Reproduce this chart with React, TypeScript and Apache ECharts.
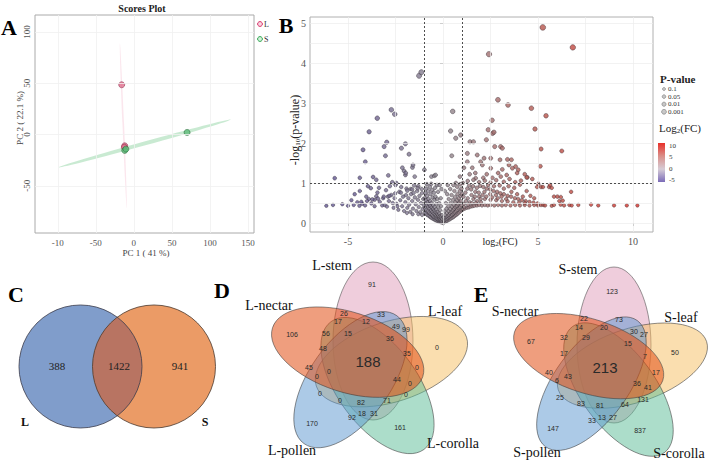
import React, { useEffect, useRef } from 'react';
import * as echarts from 'echarts';

const SERIF = '"Liberation Serif", "DejaVu Serif", serif';
const SANS = '"Liberation Sans", Arial, sans-serif';

// ---------------- Panel A : PCA scores ----------------
const pcaGroupL = [[-16, 48.5], [-12, -11], [-12.5, -12.3]];
const pcaGroupS = [[-12, -15.5], [-10.5, -14.2], [70, 2]];
const pcaEllipseL = [[-18.4, 89, -9.2, -72]];
const pcaEllipseS = [[-98.7, -32, 127.6, 14.6]];
const pcaXTicks = [-100, -50, 0, 50, 100, 150];
const pcaXTickLabels = ['-10', '-50', '0', '50', '100', '150'];
const pcaYTicks = [-50, 0, 50, 100];

// ---------------- Panel B : volcano ----------------
const volcLeftHigh = [
  [-1.26, 3.68], [-1.14, 3.77], [-2.72, 2.83], [-2.54, 2.72], [-3.46, 2.62], [-3.89, 2.28], [-2.96, 2.02],
  [-3.1, 1.91], [-1.98, 1.98], [-2.19, 1.87], [-4.21, 1.83], [-3.03, 1.68], [-1.79, 1.72], [-4.09, 1.53],
  [-2.14, 1.38], [-2.05, 1.3], [-1.61, 1.39], [-1.58, 1.45], [-2.88, 1.19], [-1.98, 1.2], [-1.96, 1.25],
  [-1.49, 1.16], [-5.7, 1.12], [-4.38, 1.13], [-3.68, 1.15], [-3.51, 1.08], [-2.67, 1.02], [-2.46, 1.0],
  [-0.98, 1.33], [-0.61, 1.16], [-0.46, 1.18], [-0.39, 1.2],
];
const volcRightHigh = [
  [5.25, 4.89], [6.83, 4.39], [2.42, 4.22], [2.89, 3.08], [3.42, 2.95], [4.65, 2.87], [0.51, 2.79],
  [2.58, 2.57], [5.42, 2.68], [4.84, 2.35], [2.38, 2.33], [2.61, 2.24], [5.16, 1.85], [6.25, 1.8],
  [3.03, 1.91], [2.28, 2.08], [5.12, 1.42], [4.44, 1.14], [4.7, 1.1], [0.4, 2.3], [0.67, 2.12],
  [0.93, 2.2], [0.46, 1.68], [2.68, 2.27], [1.42, 2.03], [1.6, 2.03], [2.72, 1.91], [3.12, 1.87],
  [1.28, 1.74], [1.8, 1.7], [2.16, 1.62], [2.51, 1.62], [3.0, 1.58], [3.39, 1.59], [3.6, 1.58],
  [1.28, 1.53], [1.98, 1.53], [2.07, 1.45], [3.47, 1.45], [3.82, 1.41], [1.1, 1.38], [1.54, 1.38],
  [2.51, 1.37], [3.12, 1.34], [3.65, 1.37], [3.96, 1.33], [0.89, 1.16], [1.72, 1.12], [2.12, 1.13],
  [2.6, 1.13], [3.04, 1.16], [4.4, 1.14], [1.3, 1.05], [1.6, 1.08], [1.9, 1.02], [2.2, 1.06],
  [2.5, 1.01], [2.8, 1.07], [3.2, 1.03], [3.5, 1.1], [3.8, 1.02], [4.1, 1.06], [4.3, 1.22],
  [3.9, 1.25], [2.9, 1.25], [1.4, 1.22], [2.3, 1.22], [1.05, 1.0], [1.7, 1.25], [3.35, 1.2],
  [5.02, 0.98], [5.63, 0.95],
];
const volcLeftLow = [
  [-6.14, 0.43], [-5.79, 0.45], [-5.3, 0.47], [-5.0, 0.43], [-4.82, 0.57], [-4.7, 0.45], [-4.51, 0.52],
  [-4.4, 0.43], [-4.25, 0.48], [-4.1, 0.44], [-3.95, 0.92], [-3.8, 0.87], [-3.77, 0.49], [-3.6, 0.42],
  [-3.37, 0.88], [-3.33, 0.53], [-3.2, 0.44], [-3.07, 0.45], [-4.38, 0.8], [-4.65, 0.72], [-4.04, 0.66],
  [-3.51, 0.67], [-2.72, 0.7], [-2.95, 0.41], [-2.85, 0.55], [-2.6, 0.38], [-2.55, 0.62], [-2.45, 0.48],
  [-2.35, 0.33], [-2.3, 0.78], [-2.25, 0.57], [-2.15, 0.42], [-2.1, 0.66], [-2.05, 0.3], [-1.98, 0.52],
  [-1.92, 0.86], [-1.88, 0.38], [-1.82, 0.62], [-1.78, 0.46], [-1.72, 0.28], [-1.68, 0.72], [-1.62, 0.55],
  [-1.58, 0.36], [-1.52, 0.94], [-1.48, 0.64], [-1.44, 0.47], [-1.4, 0.3], [-1.36, 0.8], [-1.32, 0.58],
  [-1.28, 0.4], [-1.24, 0.68], [-1.2, 0.27], [-1.16, 0.5], [-1.12, 0.85], [-1.08, 0.35], [-1.04, 0.6],
  [-1.02, 0.45], [-3.9, 0.6], [-3.45, 0.76], [-3.0, 0.82], [-2.8, 0.92], [-2.65, 0.5], [-2.5, 0.95],
  [-2.2, 0.9], [-1.95, 0.7], [-1.7, 0.85], [-1.55, 0.75], [-1.3, 0.92], [-1.1, 0.75], [-3.6, 0.58],
  [-3.15, 0.62], [-2.9, 0.66], [-2.4, 0.42], [-1.9, 0.25], [-1.6, 0.22], [-1.3, 0.22], [-1.1, 0.2],
  [-4.3, 0.53], [-4.0, 0.55], [-3.72, 0.59], [-3.42, 0.61], [-3.12, 0.66], [-2.82, 0.68], [-2.52, 0.74],
  [-2.22, 0.76], [-1.88, 0.81], [-1.62, 0.84], [-1.34, 0.87],
];
const volcCenterLow = [
  [-0.97, 0.26], [-0.9, 0.23], [-0.83, 0.2], [-0.76, 0.18], [-0.69, 0.15], [-0.62, 0.13], [-0.55, 0.11],
  [-0.48, 0.09], [-0.41, 0.07], [-0.34, 0.06], [-0.27, 0.04], [-0.2, 0.03], [-0.13, 0.02], [-0.06, 0.01],
  [0.01, 0.0], [-0.95, 0.38], [-0.88, 0.33], [-0.8, 0.3], [-0.73, 0.26], [-0.66, 0.23], [-0.58, 0.2],
  [-0.51, 0.17], [-0.44, 0.14], [-0.37, 0.12], [-0.3, 0.1], [-0.23, 0.08], [-0.16, 0.06], [-0.09, 0.04],
  [-0.93, 0.5], [-0.86, 0.45], [-0.78, 0.41], [-0.71, 0.36], [-0.63, 0.32], [-0.56, 0.28], [-0.49, 0.24],
  [-0.42, 0.21], [-0.35, 0.18], [-0.28, 0.15], [-0.21, 0.12], [-0.14, 0.09], [-0.07, 0.07], [-0.96, 0.62],
  [-0.89, 0.57], [-0.81, 0.52], [-0.74, 0.47], [-0.67, 0.43], [-0.6, 0.39], [-0.53, 0.35], [-0.46, 0.31],
  [-0.39, 0.27], [-0.32, 0.23], [-0.25, 0.19], [-0.18, 0.16], [-0.11, 0.13], [-0.04, 0.1], [-0.92, 0.74],
  [-0.84, 0.68], [-0.76, 0.6], [-0.68, 0.55], [-0.6, 0.5], [-0.52, 0.45], [-0.44, 0.4], [-0.36, 0.34],
  [-0.28, 0.28], [-0.2, 0.24], [-0.12, 0.19], [-0.9, 0.86], [-0.78, 0.8], [-0.66, 0.72], [-0.55, 0.64],
  [-0.45, 0.58], [-0.35, 0.48], [-0.25, 0.4], [-0.15, 0.32], [-0.05, 0.2], [-0.85, 0.97], [-0.7, 0.9],
  [-0.58, 0.82], [-0.48, 0.76], [-0.4, 0.66], [-0.3, 0.6], [-0.2, 0.5], [-0.1, 0.42], [-0.62, 0.98],
  [-0.42, 0.88], [-0.26, 0.78], [-0.12, 0.62], [-0.32, 0.95], [-0.08, 0.85], [-0.18, 0.95],
  [0.07, 0.02], [0.14, 0.04], [0.21, 0.05], [0.28, 0.07], [0.35, 0.09], [0.42, 0.11], [0.49, 0.13],
  [0.56, 0.15], [0.63, 0.18], [0.7, 0.2], [0.77, 0.23], [0.84, 0.26], [0.91, 0.29], [0.98, 0.32],
  [0.05, 0.06], [0.12, 0.08], [0.19, 0.1], [0.26, 0.13], [0.33, 0.15], [0.4, 0.18], [0.47, 0.21],
  [0.54, 0.24], [0.61, 0.27], [0.68, 0.3], [0.75, 0.33], [0.82, 0.37], [0.89, 0.4], [0.96, 0.44],
  [0.09, 0.12], [0.16, 0.15], [0.23, 0.18], [0.3, 0.21], [0.37, 0.25], [0.44, 0.28], [0.51, 0.32],
  [0.58, 0.36], [0.65, 0.4], [0.72, 0.43], [0.79, 0.47], [0.86, 0.51], [0.93, 0.55], [0.03, 0.14],
  [0.11, 0.2], [0.2, 0.25], [0.29, 0.3], [0.38, 0.35], [0.47, 0.41], [0.56, 0.46], [0.65, 0.52],
  [0.74, 0.57], [0.83, 0.62], [0.92, 0.68], [0.99, 0.72], [0.08, 0.3], [0.18, 0.36], [0.28, 0.42],
  [0.4, 0.5], [0.52, 0.58], [0.64, 0.65], [0.76, 0.72], [0.88, 0.8], [0.97, 0.86], [0.15, 0.5],
  [0.3, 0.6], [0.45, 0.7], [0.6, 0.8], [0.75, 0.9], [0.9, 0.97], [0.22, 0.72], [0.38, 0.85],
  [0.55, 0.95], [0.1, 0.8], [0.68, 1.0], [0.25, 0.95],
];
const volcRightLow = [
  [1.05, 0.34], [1.15, 0.36], [1.25, 0.38], [1.35, 0.39], [1.45, 0.41], [1.55, 0.42], [1.65, 0.43],
  [1.78, 0.44], [1.9, 0.45], [2.05, 0.44], [2.2, 0.45], [2.35, 0.44], [2.5, 0.45], [2.7, 0.44],
  [2.9, 0.45], [3.1, 0.44], [3.3, 0.45], [3.55, 0.44], [3.8, 0.45], [4.05, 0.44], [4.3, 0.45],
  [4.55, 0.44], [4.8, 0.45], [5.0, 0.44], [1.95, 0.93], [2.12, 0.9], [2.3, 0.86], [2.48, 0.84],
  [2.66, 0.8], [2.85, 0.78], [3.02, 0.74], [3.2, 0.72], [3.4, 0.68], [3.58, 0.66], [3.78, 0.62],
  [3.96, 0.6], [4.15, 0.57], [4.35, 0.55], [4.55, 0.53], [4.76, 0.51], [4.98, 0.49], [2.2, 0.6],
  [2.5, 0.58], [2.8, 0.57], [3.1, 0.55], [3.4, 0.54], [3.7, 0.52], [4.0, 0.51], [4.3, 0.5],
  [1.1, 0.48], [1.2, 0.55], [1.3, 0.62], [1.4, 0.52], [1.5, 0.7], [1.6, 0.6], [1.7, 0.78],
  [1.8, 0.55], [1.9, 0.66], [2.0, 0.52], [1.08, 0.66], [1.18, 0.76], [1.28, 0.86], [1.38, 0.94],
  [1.48, 0.84], [1.58, 0.92], [1.68, 0.66], [1.78, 0.88], [1.88, 0.76], [1.98, 0.6], [2.08, 0.7],
  [2.18, 0.78], [2.28, 0.66], [2.38, 0.95], [2.48, 0.72], [2.58, 0.64], [2.68, 0.92], [2.78, 0.7],
  [2.88, 0.62], [2.98, 0.94], [3.08, 0.66], [3.2, 0.86], [3.32, 0.6], [3.45, 0.92], [3.6, 0.78],
  [3.75, 0.88], [3.9, 0.72], [4.05, 0.96], [4.2, 0.66], [4.4, 0.8], [4.6, 0.68], [4.8, 0.62],
  [4.95, 0.9], [1.12, 0.4], [1.32, 0.46], [1.52, 0.5], [1.72, 0.5], [5.16, 0.9], [5.26, 0.9],
  [5.58, 0.9], [5.72, 0.88], [5.84, 0.66], [6.02, 0.66], [6.2, 0.65], [6.12, 0.55], [6.3, 0.56],
  [5.16, 0.45], [5.28, 0.45], [5.37, 0.44], [5.72, 0.43], [5.84, 0.45], [6.19, 0.46], [6.37, 0.44],
  [6.65, 0.45], [6.77, 0.44], [7.12, 0.45], [7.79, 0.46], [8.17, 0.44], [9.0, 0.44], [9.67, 0.44],
  [10.23, 0.44], [6.74, 0.78],
];
const volcXTicks = [-5, 0, 5, 10];
const volcYTicks = [0, 1, 2, 3, 4, 5];
const volcXGrid = [-7.5, -5, -2.5, 0, 2.5, 5, 7.5, 10];
const volcYGrid = [0, 0.5, 1, 1.5, 2, 2.5, 3, 3.5, 4, 4.5, 5];
const fcThresholds = [-1, 1];
const pThreshold = 1;
const pValueLegend = ['0.1', '0.05', '0.01', '0.001'];
const fcLegendTicks = ['10', '5', '0', '-5'];

// ---------------- Panel C : two-set Venn ----------------
const vennCSets = ['L', 'S'];
const vennCCounts = [388, 1422, 941];

// ---------------- Panel D / E : five-set Venn ----------------
const vennDSets = ['L-stem', 'L-leaf', 'L-corolla', 'L-pollen', 'L-nectar'];
const vennDCounts = [91, 26, 33, 17, 12, 49, 99, 106, 56, 15, 36, 0, 48, 35, 188, 45, 0, 0, 0, 44, 0, 0, 0, 0, 82, 71, 170, 92, 18, 31, 161];
const vennESets = ['S-stem', 'S-leaf', 'S-corolla', 'S-pollen', 'S-nectar'];
const vennECounts = [123, 22, 73, 14, 20, 30, 27, 67, 32, 29, 15, 50, 17, 7, 213, 40, 43, 17, 6, 36, 41, 25, 131, 83, 81, 64, 27, 13, 33, 147, 837];

// layout of the Venn labels (pixel positions)
const vennDCountPos = [[372, 284], [344, 313], [381, 314], [338, 321], [366, 321], [396, 326], [406, 329], [292, 334], [326, 333], [348, 333], [390, 338], [437, 347], [323, 348], [407, 353], [368, 361], [309, 367], [329, 371], [317, 376], [417, 367], [397, 379], [410, 383], [320, 393], [406, 394], [340, 400], [361, 402], [387, 400], [312, 423], [352, 417], [362, 413], [374, 413], [400, 427]];
const vennECountPos = [[612, 291], [584, 318], [619, 319], [579, 327], [604, 327], [634, 331], [644, 334], [531, 341], [564, 337], [586, 337], [628, 343], [675, 352], [564, 353], [645, 356], [605, 367], [549, 372], [568, 376], [656, 372], [557, 380], [637, 383], [648, 387], [560, 397], [643, 399], [581, 403], [600, 405], [625, 404], [613, 417], [602, 417], [592, 420], [553, 428], [640, 430]];
const vennDSetPos = [[332, 265], [445, 311], [453, 443], [292, 450], [269, 305]];
const vennESetPos = [[578, 269], [681, 317], [679, 453], [537, 452], [515, 311]];

const vennFills = [
  'rgba(222,150,182,0.48)',
  'rgba(246,190,95,0.5)',
  'rgba(90,188,150,0.5)',
  'rgba(90,150,208,0.5)',
  'rgba(226,78,20,0.55)',
];

// two-circle geometry for panel C
const cLeft = [80.5, 366.5];
const cRight = [154, 366.5];
const cR = 61.5;
(function registerLens() {
  const half = (cRight[0] - cLeft[0]) / 2;
  const ix = cLeft[0] + half;
  const h = Math.sqrt(cR * cR - half * half);
  const y1 = cLeft[1] - h;
  const y2 = cLeft[1] + h;
  const d = `M ${ix} ${y1} A ${cR} ${cR} 0 0 1 ${ix} ${y2} A ${cR} ${cR} 0 0 1 ${ix} ${y1} Z`;
  echarts.graphic.registerShape('lensC', echarts.graphic.extendPath(d, {}));
})();

function vennEllipses(cx: number, cy: number, d: number, e: number, rMaj: number, rMin: number) {
  return vennFills.map((fill, k) => {
    const th = ((-90 + 72 * k) * Math.PI) / 180;
    const ux = Math.cos(th);
    const uy = Math.sin(th);
    const vx = -uy;
    const vy = ux;
    return {
      type: 'ellipse',
      x: cx + d * ux + e * vx,
      y: cy + d * uy + e * vy,
      rotation: -th,
      shape: { cx: 0, cy: 0, rx: rMaj, ry: rMin },
      style: { fill, stroke: 'rgba(60,60,60,0.75)', lineWidth: 0.7 },
    };
  });
}

function vennTexts(counts: number[], pos: number[][], bigIndex: number) {
  return counts.map((c, i) => ({
    type: 'text',
    x: pos[i][0],
    y: pos[i][1],
    style: {
      text: String(c),
      fontSize: i === bigIndex ? 15 : 7,
      fontFamily: SANS,
      fill: '#2a2a2a',
      align: 'center',
      verticalAlign: 'middle',
    },
  }));
}

function setTexts(names: string[], pos: number[][]) {
  return names.map((n, i) => ({
    type: 'text',
    x: pos[i][0],
    y: pos[i][1],
    style: { text: n, fontSize: 14, fontFamily: SERIF, fill: '#111', align: 'center', verticalAlign: 'middle' },
  }));
}

function txt(text: string, x: number, y: number, opts: any = {}) {
  return {
    type: 'text',
    x,
    y,
    rotation: opts.rotation || 0,
    style: {
      text,
      fontSize: opts.fontSize || 10,
      fontFamily: opts.fontFamily || SERIF,
      fontWeight: opts.fontWeight || 'normal',
      fill: opts.fill || '#222',
      align: opts.align || 'center',
      verticalAlign: 'middle',
      rich: opts.rich,
    },
  };
}

const ellipseItem = (hw: number, fill: string) => (params: any, api: any) => {
  const p1 = api.coord([api.value(0), api.value(1)]);
  const p2 = api.coord([api.value(2), api.value(3)]);
  const dx = p2[0] - p1[0];
  const dy = p2[1] - p1[1];
  return {
    type: 'ellipse',
    x: (p1[0] + p2[0]) / 2,
    y: (p1[1] + p2[1]) / 2,
    rotation: -Math.atan2(dy, dx),
    shape: { cx: 0, cy: 0, rx: Math.hypot(dx, dy) / 2, ry: hw },
    style: { fill },
  };
};

export default function App() {
  const ref = useRef<HTMLDivElement>(null);
  useEffect(() => {
    if (!ref.current) return;
    const chart = echarts.init(ref.current, undefined, { renderer: 'svg' });
    const volcData = [...volcLeftLow, ...volcCenterLow, ...volcRightLow, ...volcLeftHigh, ...volcRightHigh];
    const axisLabelA = { fontSize: 9, fontFamily: SERIF, color: '#555' };
    const axisLabelB = { fontSize: 10, fontFamily: SERIF, color: '#555' };
    const sub = { s: { fontSize: 7, fontFamily: SERIF, padding: [5, 0, 0, 0] } };

    const graphic: any[] = [
      // panel letters
      txt('A', 9, 27, { fontSize: 22, fontWeight: 'bold', fill: '#000' }),
      txt('B', 286, 25, { fontSize: 22, fontWeight: 'bold', fill: '#000' }),
      txt('C', 16, 294, { fontSize: 22, fontWeight: 'bold', fill: '#000' }),
      txt('D', 222, 290, { fontSize: 22, fontWeight: 'bold', fill: '#000' }),
      txt('E', 481, 294, { fontSize: 22, fontWeight: 'bold', fill: '#000' }),
      // panel A texts
      txt('Scores Plot', 142, 8, { fontSize: 10, fontWeight: 'bold', fill: '#222' }),
      txt('PC 2 ( 22.1 %)', 20, 118, { fontSize: 9, rotation: Math.PI / 2, fill: '#444' }),
      txt('PC 1 ( 41 %)', 146, 253, { fontSize: 9, fill: '#444' }),
      { type: 'circle', shape: { cx: 260, cy: 24, r: 2.4 }, style: { fill: 'rgba(240,150,180,0.4)', stroke: '#D8336A', lineWidth: 1 } },
      txt('L', 264, 24, { fontSize: 8, align: 'left', fill: '#333' }),
      { type: 'circle', shape: { cx: 260, cy: 39, r: 2.4 }, style: { fill: 'rgba(150,220,170,0.4)', stroke: '#2FA650', lineWidth: 1 } },
      txt('S', 264, 39, { fontSize: 8, align: 'left', fill: '#333' }),
      // panel B texts
      txt('-log{s|10}(p-value)', 295, 130, { fontSize: 12, rotation: Math.PI / 2, fill: '#222', rich: sub }),
      txt('log{s|2}(FC)', 500, 241, { fontSize: 10, fill: '#222', rich: sub }),
      txt('P-value', 660, 79, { fontSize: 11, fontWeight: 'bold', align: 'left', fill: '#222' }),
      ...pValueLegend.map((p, i) => ({
        type: 'circle',
        shape: { cx: 664, cy: 89 + i * 7.6, r: 1.5 + i * 0.3 },
        style: { fill: '#C8C8C8', stroke: '#777', lineWidth: 0.6 },
      })),
      ...pValueLegend.map((p, i) => txt(p, 668, 89 + i * 7.6, { fontSize: 7, align: 'left', fill: '#333' })),
      txt('Log{s|2}(FC)', 659, 128, { fontSize: 11, align: 'left', fill: '#222', rich: { s: { fontSize: 7, fontFamily: SERIF, padding: [5, 0, 0, 0] } } }),
      {
        type: 'rect',
        shape: { x: 658, y: 143, width: 7, height: 39 },
        style: {
          fill: {
            type: 'linear', x: 0, y: 0, x2: 0, y2: 1,
            colorStops: [
              { offset: 0, color: '#E8302A' },
              { offset: 0.33, color: '#DA8E88' },
              { offset: 0.67, color: '#D6CCD6' },
              { offset: 1, color: '#7B6BB8' },
            ],
          },
        },
      },
      ...fcLegendTicks.map((t, i) => txt(t, 669, 146 + i * 11.3, { fontSize: 7, align: 'left', fill: '#333' })),
      // panel C venn
      { type: 'circle', shape: { cx: cLeft[0], cy: cLeft[1], r: cR }, style: { fill: '#809DCB' } },
      { type: 'circle', shape: { cx: cRight[0], cy: cRight[1], r: cR }, style: { fill: '#EB9B66' } },
      { type: 'lensC', x: 0, y: 0, style: { fill: '#B87462' } },
      { type: 'circle', shape: { cx: cLeft[0], cy: cLeft[1], r: cR }, style: { fill: 'none', stroke: '#3c3c4a', lineWidth: 0.8 } },
      { type: 'circle', shape: { cx: cRight[0], cy: cRight[1], r: cR }, style: { fill: 'none', stroke: '#4a3a30', lineWidth: 0.8 } },
      txt(String(vennCCounts[0]), 57, 366, { fontSize: 11, fill: '#222' }),
      txt(String(vennCCounts[1]), 119, 366, { fontSize: 11, fill: '#222' }),
      txt(String(vennCCounts[2]), 180, 366, { fontSize: 11, fill: '#222' }),
      txt(vennCSets[0], 25, 422, { fontSize: 12, fontWeight: 'bold', fill: '#111' }),
      txt(vennCSets[1], 205, 422, { fontSize: 12, fontWeight: 'bold', fill: '#111' }),
      // panel D venn
      ...vennEllipses(368, 364, 23, 5, 79, 40),
      ...vennTexts(vennDCounts, vennDCountPos, 14),
      ...setTexts(vennDSets, vennDSetPos),
      // panel E venn
      ...vennEllipses(609, 368, 23, 5, 78, 37),
      ...vennTexts(vennECounts, vennECountPos, 14),
      ...setTexts(vennESets, vennESetPos),
    ];

    const option: any = {
      animation: false,
      backgroundColor: '#ffffff',
      grid: [
        { left: 35, top: 15, width: 219, height: 218, show: true, borderColor: '#AAAAAA', borderWidth: 1 },
        { left: 310, top: 17, width: 343, height: 215, show: true, borderColor: '#B0B0B0', borderWidth: 1 },
      ],
      xAxis: [
        {
          type: 'value', gridIndex: 0, min: -130, max: 158,
          axisLine: { show: false }, axisTick: { show: false }, splitLine: { show: false },
          axisLabel: {
            ...axisLabelA, margin: 5, customValues: pcaXTicks,
            formatter: (v: number) => pcaXTickLabels[pcaXTicks.indexOf(v)] ?? String(v),
          },
        },
        {
          type: 'value', gridIndex: 1, min: -7, max: 11.05,
          axisLine: { show: false }, splitLine: { show: false },
          axisTick: { show: true, length: 3, lineStyle: { color: '#888' }, customValues: volcXTicks },
          axisLabel: { ...axisLabelB, margin: 4, customValues: volcXTicks },
        },
      ],
      yAxis: [
        {
          type: 'value', gridIndex: 0, min: -96, max: 116.5,
          axisLine: { show: false }, axisTick: { show: false }, splitLine: { show: false },
          axisLabel: { ...axisLabelA, margin: 4, rotate: 90, customValues: pcaYTicks },
        },
        {
          type: 'value', gridIndex: 1, min: -0.225, max: 5.15,
          axisLine: { show: false }, splitLine: { show: false },
          axisTick: { show: true, length: 3, lineStyle: { color: '#888' }, customValues: volcYTicks },
          axisLabel: { ...axisLabelB, margin: 4, customValues: volcYTicks },
        },
      ],
      visualMap: [
        {
          show: false, type: 'continuous', dimension: 0, min: -5, max: 10, seriesIndex: 6,
          inRange: { color: ['#625690', '#8E8890', '#B5574E', '#D3312A'] },
        },
      ],
      graphic: { elements: graphic },
      series: [
        {
          type: 'scatter', xAxisIndex: 0, yAxisIndex: 0, data: [], z: 1,
          markLine: {
            silent: true, symbol: ['none', 'none'], label: { show: false },
            lineStyle: { color: '#F0F0F0', width: 0.8, type: 'solid' },
            data: [...pcaXTicks.map((v) => ({ xAxis: v })), ...pcaYTicks.map((v) => ({ yAxis: v }))],
          },
        },
        {
          type: 'custom', xAxisIndex: 0, yAxisIndex: 0, z: 2,
          renderItem: ellipseItem(0.8, 'rgba(240,165,190,0.28)'),
          encode: { x: [0, 2], y: [1, 3] },
          data: pcaEllipseL,
        },
        {
          type: 'custom', xAxisIndex: 0, yAxisIndex: 0, z: 2,
          renderItem: ellipseItem(2.0, 'rgba(165,220,180,0.6)'),
          encode: { x: [0, 2], y: [1, 3] },
          data: pcaEllipseS,
        },
        {
          type: 'scatter', xAxisIndex: 0, yAxisIndex: 0, z: 3, symbolSize: 6,
          itemStyle: { color: '#E06E8C', borderColor: '#8A2A48', borderWidth: 0.7 },
          data: pcaGroupL,
        },
        {
          type: 'scatter', xAxisIndex: 0, yAxisIndex: 0, z: 3, symbolSize: 6,
          itemStyle: { color: '#5DBA78', borderColor: '#2A6A3A', borderWidth: 0.7 },
          data: pcaGroupS,
        },
        {
          type: 'scatter', xAxisIndex: 1, yAxisIndex: 1, data: [], z: 1,
          markLine: {
            silent: true, symbol: ['none', 'none'], label: { show: false },
            lineStyle: { color: '#EDEDED', width: 0.7, type: 'solid' },
            data: [...volcXGrid.map((v) => ({ xAxis: v })), ...volcYGrid.map((v) => ({ yAxis: v }))],
          },
        },
        {
          type: 'scatter', xAxisIndex: 1, yAxisIndex: 1, z: 3,
          symbolSize: (v: number[]) => 3.3 + v[1] * 0.5,
          itemStyle: { borderColor: 'rgba(30,25,35,0.75)', borderWidth: 0.6 },
          data: volcData,
        },
        {
          type: 'scatter', xAxisIndex: 1, yAxisIndex: 1, data: [], z: 4,
          markLine: {
            silent: true, symbol: ['none', 'none'], label: { show: false },
            lineStyle: { color: '#222', width: 0.8, type: [2, 2] },
            data: [...fcThresholds.map((v) => ({ xAxis: v })), { yAxis: pThreshold }],
          },
        },
      ],
    };
    chart.setOption(option);
    return () => chart.dispose();
  }, []);
  return (
    <div
      ref={ref}
      style={{ position: 'absolute', left: 0, top: 0, width: 708, height: 463, background: '#fff' }}
    />
  );
}
